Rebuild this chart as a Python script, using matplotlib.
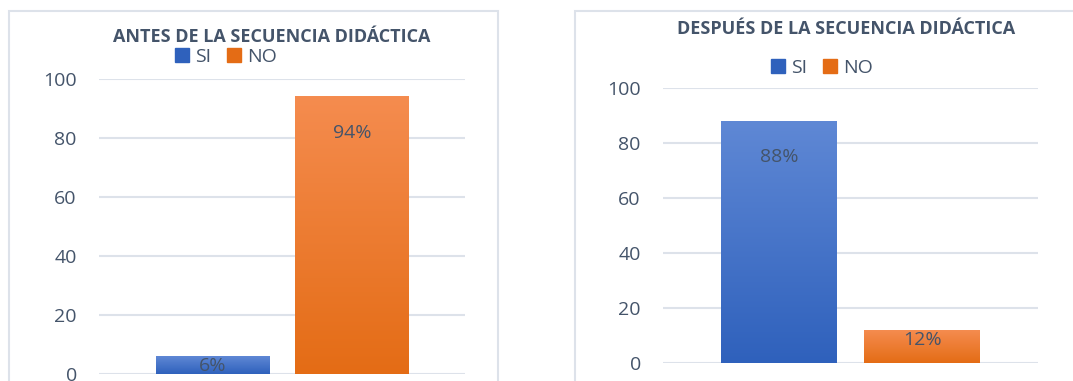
import numpy as np
import matplotlib.pyplot as plt
from matplotlib.colors import LinearSegmentedColormap
from matplotlib.patches import Rectangle, Patch

plt.rcParams['font.family'] = ['Open Sans', 'DejaVu Sans']

series = ['SI', 'NO']
antes = [6, 94]
despues = [88, 12]
titles = ['ANTES DE LA SECUENCIA DIDÁCTICA', 'DESPUÉS DE LA SECUENCIA DIDÁCTICA']

blue = ('#5F88D5', '#2F61BC')
orange = ('#F58C4F', '#E46C15')
text_col = '#44546A'
grid_col = '#DDE2EA'

fig = plt.figure(figsize=(10.73, 3.81), dpi=100)

# frames around each chart
fig.patches.append(Rectangle((9 / 1073, -0.1), 489 / 1073, 1.1 - 11 / 381, transform=fig.transFigure,
                             fill=False, ec='#DDE2EA', lw=1.5))
fig.patches.append(Rectangle((575 / 1073, -0.1), 0.6, 1.1 - 11 / 381, transform=fig.transFigure,
                             fill=False, ec='#DDE2EA', lw=1.5))

ax1 = fig.add_axes([99 / 1073, 7.3 / 381, 366 / 1073, 295 / 381])
ax2 = fig.add_axes([663 / 1073, 18.3 / 381, 375 / 1073, 275 / 381])


def gradient_bars(ax, values):
    x = np.arange(len(values))
    bars = ax.bar(x, values, width=0.81, color='none')
    for b, cols in zip(bars, [blue, orange]):
        cmap = LinearSegmentedColormap.from_list('g', [cols[1], cols[0]])
        grad = np.linspace(0, 1, 256).reshape(-1, 1)
        im = ax.imshow(grad, cmap=cmap, origin='lower', aspect='auto',
                       extent=[b.get_x(), b.get_x() + b.get_width(), 0, b.get_height()],
                       zorder=2)
        im.set_clip_path(b)
    for xi, v in zip(x, values):
        off = -20 if v > 50 else -1
        ax.annotate(f'{v}%', (xi, v), xytext=(0, off), textcoords='offset points',
                    ha='center', va='top', fontsize=14, color=text_col, zorder=3)
    ax.set_xlim(-0.81, 1.81)
    ax.set_ylim(0, 100)
    ax.set_yticks(range(0, 101, 20))
    ax.set_xticks([])
    ax.tick_params(axis='y', length=0, labelsize=14, labelcolor=text_col, pad=16)
    ax.grid(axis='y', color=grid_col, lw=1.5)
    ax.set_axisbelow(True)
    for s in ax.spines.values():
        s.set_visible(False)


gradient_bars(ax1, antes)
gradient_bars(ax2, despues)

fig.text(272 / 1073, 1 - 37 / 381, titles[0], ha='center', va='center',
         fontsize=13, fontweight='bold', color=text_col)
fig.text(846 / 1073, 1 - 29 / 381, titles[1], ha='center', va='center',
         fontsize=13, fontweight='bold', color=text_col)

handles = [Patch(color=blue[1]), Patch(color=orange[1])]
for cx, cy in [(226 / 1073, 1 - 57 / 381), (822 / 1073, 1 - 68 / 381)]:
    fig.legend(handles, series, loc='center', bbox_to_anchor=(cx, cy), ncol=2,
               frameon=False, fontsize=14, labelcolor=text_col, handlelength=0.75,
               handleheight=0.75, handletextpad=0.3, columnspacing=0.8,
               borderpad=0, borderaxespad=0)

fig.savefig('out.png', dpi=100)
